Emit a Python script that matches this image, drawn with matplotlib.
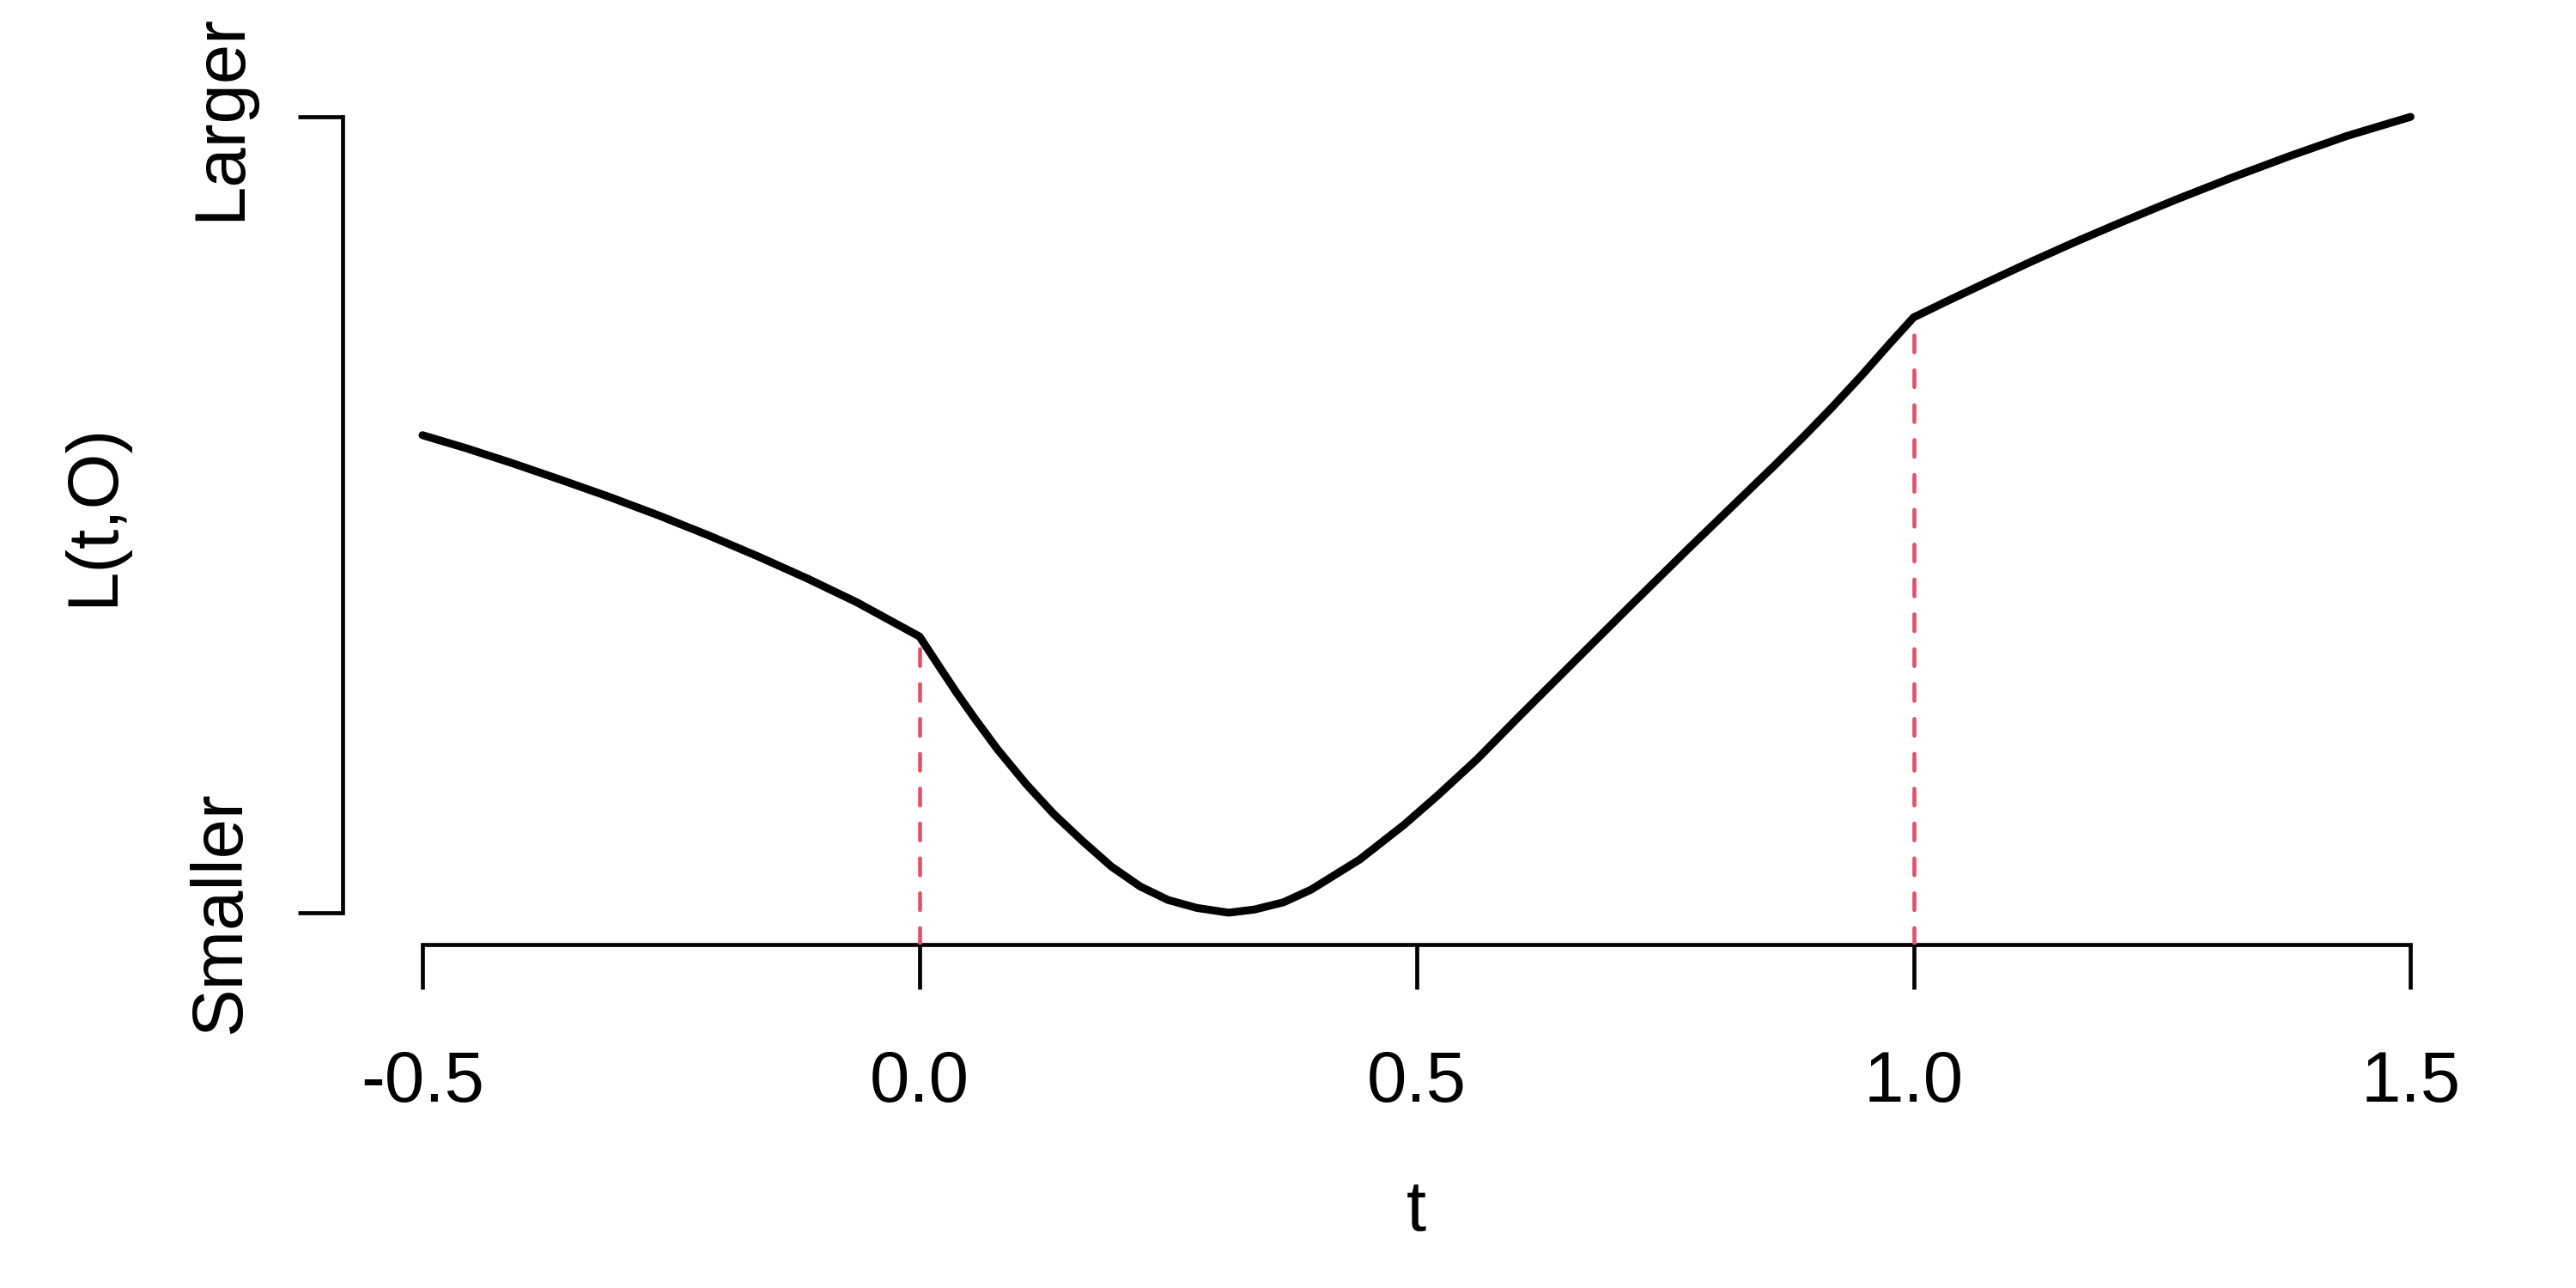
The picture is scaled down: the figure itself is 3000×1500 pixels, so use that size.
import matplotlib
matplotlib.use("Agg")
import matplotlib.pyplot as plt

# ---- data (L normalised: 0 = "Smaller", 1 = "Larger") ----
t_vals = [-0.5, -0.457, -0.410, -0.361, -0.311, -0.262, -0.212, -0.163, -0.113, -0.063,
          0.0, 0.009, 0.020, 0.037, 0.055, 0.078, 0.107, 0.135, 0.164, 0.193,
          0.222, 0.250, 0.279, 0.311, 0.337, 0.366, 0.394, 0.443, 0.487, 0.521,
          0.561, 0.602, 0.659, 0.717, 0.774, 0.803, 0.832, 0.861, 0.890, 0.918,
          0.947, 0.976, 1.0, 1.033, 1.077, 1.120, 1.163, 1.206, 1.264, 1.321,
          1.379, 1.436, 1.5]
loss_vals = [0.600, 0.584, 0.565, 0.544, 0.522, 0.499, 0.474, 0.448, 0.420, 0.390,
             0.347, 0.330, 0.309, 0.277, 0.245, 0.206, 0.162, 0.124, 0.090, 0.058,
             0.033, 0.016, 0.006, 0.0, 0.004, 0.013, 0.029, 0.067, 0.110, 0.147,
             0.193, 0.245, 0.316, 0.388, 0.458, 0.493, 0.528, 0.563, 0.599, 0.635,
             0.674, 0.715, 0.748, 0.768, 0.794, 0.819, 0.843, 0.866, 0.896, 0.924,
             0.951, 0.976, 1.0]
break_t = [0.0, 1.0]
break_loss = [0.347, 0.748]
x_ticks = [-0.5, 0.0, 0.5, 1.0, 1.5]
x_tick_labels = ["-0.5", "0.0", "0.5", "1.0", "1.5"]
y_ticks = [0.0, 1.0]
y_tick_labels = ["Smaller", "Larger"]
x_title = "t"
y_title = "L(t,O)"

plt.rcParams['font.family'] = ['Liberation Sans', 'DejaVu Sans']

W, H = 3000, 1500
fig = plt.figure(figsize=(10, 5), dpi=300)
left_px, right_px, top_px, bottom_px = 399.4, 2900.0, 99.0, 1100.0
ax = fig.add_axes([left_px / W, 1 - bottom_px / H,
                   (right_px - left_px) / W, (bottom_px - top_px) / H])
ax.set_xlim(-0.58, 1.58)
ax.set_ylim(-0.04, 1.04)
ax.patch.set_visible(False)

ax.plot(t_vals, loss_vals, color='black', lw=2.2,
        solid_capstyle='round', solid_joinstyle='round', zorder=2)
for bt, bl in zip(break_t, break_loss):
    ax.plot([bt, bt], [-0.04, bl], color='#DF536B', lw=1.12,
            dashes=(4.2, 4.5), dash_capstyle='round', zorder=3)

for s in ['top', 'right']:
    ax.spines[s].set_visible(False)
ax.spines['left'].set_bounds(y_ticks[0], y_ticks[-1])
ax.spines['bottom'].set_bounds(x_ticks[0], x_ticks[-1])
for s in ['left', 'bottom']:
    ax.spines[s].set_linewidth(1.12)
    ax.spines[s].set_capstyle('projecting')

ax.set_xticks(x_ticks, x_tick_labels)
ax.set_yticks(y_ticks, y_tick_labels)
ax.tick_params(axis='x', length=12.5, width=1.12, pad=16.8, labelsize=20, direction='out')
ax.tick_params(axis='y', length=12.5, width=1.12, pad=12.2, labelsize=20, direction='out')
plt.setp(ax.get_yticklabels(), rotation=90, va='center')

ax.set_xlabel(x_title, fontsize=20)
ax.xaxis.set_label_coords(0.5, (bottom_px - 1372) / (bottom_px - top_px))
ax.set_ylabel(y_title, fontsize=20)
ax.yaxis.set_label_coords((147.7 - left_px) / (right_px - left_px), 0.5)

fig.savefig("out.png", dpi=300, facecolor='white')
